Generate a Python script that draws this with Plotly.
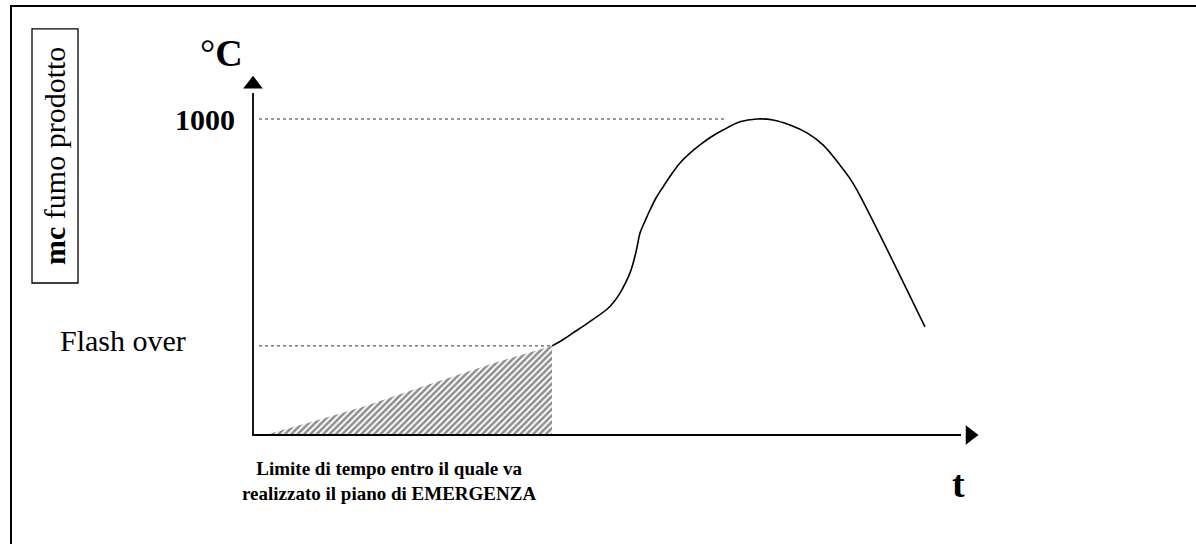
import plotly.graph_objects as go

# ---- data (time in arbitrary units, temperature in °C) ----
curve_t = [29.9, 30.9, 32.0, 33.0, 34.0, 35.4, 36.1, 36.7, 37.2, 37.7, 38.1, 38.4, 38.7,
           39.2, 39.7, 40.3, 41.0, 41.8, 42.7, 43.7, 44.7, 45.8, 47.0, 48.7, 50.4,
           52.0, 53.7, 55.4, 57.0, 58.7, 59.6, 60.4, 67.2]
curve_T = [282, 300, 323, 344, 366, 398, 422, 449, 478, 513, 554, 594, 639,
           677, 712, 750, 785, 823, 861, 892, 918, 943, 965, 991, 1000,
           997, 981, 956, 918, 854, 816, 775, 342]

hatch_t = [1.15, 5.4, 11.1, 16.9, 24.5, 29.9]
hatch_T = [0, 37, 90, 153, 232, 282]

flash_T = 282
peak_T = 1000
flash_t = 29.9
peak_line_end_t = 47.3
axis_t_end = 70.8
axis_T_end = 1082

FONT = "Times New Roman, Liberation Serif, serif"

fig = go.Figure()

# hatched area (emergency time window)
fig.add_trace(go.Scatter(
    x=hatch_t + [flash_t, hatch_t[0]],
    y=hatch_T + [0, 0],
    mode="lines", fill="toself", line=dict(width=0, color="rgba(0,0,0,0)"),
    fillcolor="white",
    fillpattern=dict(shape="/", size=4.5, solidity=0.55, fgcolor="#1a1a1a", bgcolor="white"),
    hoverinfo="skip"))

# dotted reference lines
fig.add_trace(go.Scatter(x=[0.6, flash_t], y=[flash_T, flash_T], mode="lines",
                         line=dict(color="#333", width=1, dash="dot"), hoverinfo="skip"))
fig.add_trace(go.Scatter(x=[0.6, peak_line_end_t], y=[peak_T, peak_T], mode="lines",
                         line=dict(color="#333", width=1, dash="dot"), hoverinfo="skip"))

# temperature curve
fig.add_trace(go.Scatter(x=curve_t, y=curve_T, mode="lines",
                         line=dict(color="black", width=1.6, shape="spline", smoothing=1.0),
                         hoverinfo="skip"))

# axes with arrows
fig.add_trace(go.Scatter(x=[0, 0, axis_t_end], y=[axis_T_end, 0, 0], mode="lines",
                         line=dict(color="black", width=1.8), hoverinfo="skip"))
fig.add_trace(go.Scatter(x=[0], y=[axis_T_end + 28], mode="markers",
                         marker=dict(symbol="triangle-up", size=17, color="black"), hoverinfo="skip"))
fig.add_trace(go.Scatter(x=[axis_t_end + 0.9], y=[0], mode="markers",
                         marker=dict(symbol="triangle-right", size=17, color="black"), hoverinfo="skip"))

annos = [
    dict(x=-1.6, y=1000, text="<b>1000</b>", xanchor="right", yanchor="middle", font=dict(size=30)),
    dict(x=-3.2, y=1209, text="°<b>C</b>", xanchor="center", yanchor="middle", font=dict(size=38)),
    dict(x=-13.0, y=298, text="Flash over", xanchor="center", yanchor="middle", font=dict(size=30)),
    dict(x=70.5, y=-155, text="<b>t</b>", xanchor="center", yanchor="middle", font=dict(size=38)),
    dict(x=13.6, y=-146, text="<b>Limite di tempo entro il quale va<br>realizzato il piano di EMERGENZA</b>",
         xanchor="center", yanchor="middle", font=dict(size=19)),
    dict(x=-19.8, y=883, text="<b>mc</b> fumo prodotto", textangle=-90,
         xanchor="center", yanchor="middle", font=dict(size=30)),
]
for a in annos:
    a.update(showarrow=False, xref="x", yref="y")
    a["font"].update(family=FONT, color="black")
fig.update_layout(annotations=annos)

# label box and outer frame
fig.add_shape(type="rect", xref="x", yref="y", x0=-22.1, x1=-17.5, y0=481, y1=1285,
              line=dict(color="black", width=1.3), fillcolor="rgba(0,0,0,0)")
fig.add_shape(type="rect", xref="paper", yref="paper", x0=11/1196, x1=1.02, y0=-0.02, y1=1-6/544,
              line=dict(color="black", width=2), fillcolor="rgba(0,0,0,0)")

fig.update_layout(
    width=1196, height=544, margin=dict(l=0, r=0, t=0, b=0),
    paper_bgcolor="white", plot_bgcolor="white", showlegend=False,
    xaxis=dict(range=[-25.3, 94.3], visible=False, fixedrange=True),
    yaxis=dict(range=[-344.9, 1376.6], visible=False, fixedrange=True),
)

fig.write_html("out.html", config={"displayModeBar": False},
               post_script="document.body.style.margin='0';document.body.style.overflow='hidden';")
